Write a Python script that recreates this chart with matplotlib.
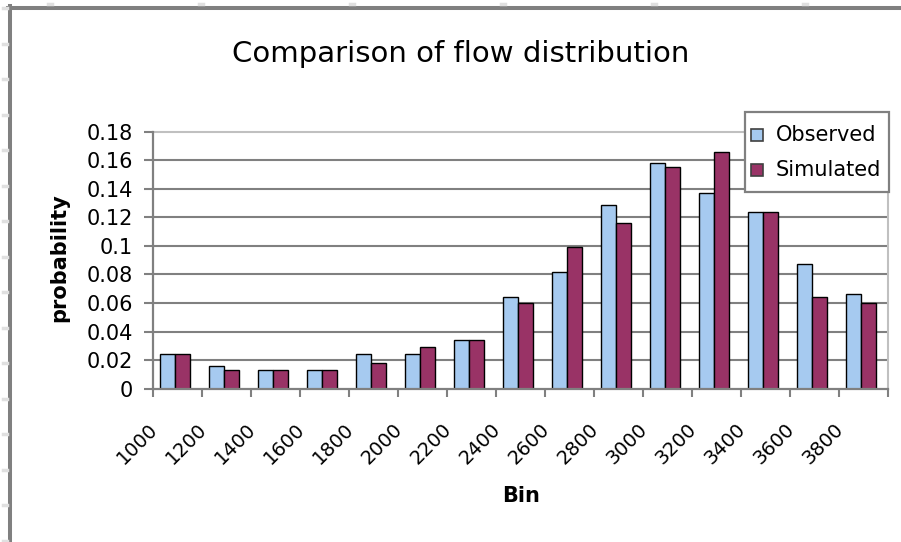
import numpy as np
import matplotlib
matplotlib.use("Agg")
import matplotlib.pyplot as plt
from matplotlib.patches import Rectangle
from matplotlib.lines import Line2D
from matplotlib.transforms import ScaledTranslation

# ---- data -------------------------------------------------------------
bins = ["1000", "1200", "1400", "1600", "1800", "2000", "2200", "2400",
        "2600", "2800", "3000", "3200", "3400", "3600", "3800"]
observed = [0.024, 0.016, 0.013, 0.013, 0.024, 0.024, 0.034, 0.064,
            0.082, 0.129, 0.158, 0.137, 0.124, 0.087, 0.066]
simulated = [0.024, 0.013, 0.013, 0.013, 0.018, 0.029, 0.034, 0.060,
             0.099, 0.116, 0.155, 0.166, 0.124, 0.064, 0.060]
series_names = ["Observed", "Simulated"]
y_ticks = [0, 0.02, 0.04, 0.06, 0.08, 0.1, 0.12, 0.14, 0.16, 0.18]
y_tick_labels = ["0", "0.02", "0.04", "0.06", "0.08", "0.1", "0.12",
                 "0.14", "0.16", "0.18"]

# ---- style ------------------------------------------------------------
W, H, DPI = 901, 542, 100
plt.rcParams["font.family"] = ["DejaVu Sans"]
GRID = "#808080"
LIGHT = "#c0c0c0"
colors = ["#a6caf0", "#993366"]
FS = 15

fig = plt.figure(figsize=(W / DPI, H / DPI), dpi=DPI)
fig.patch.set_facecolor("white")

def px_box(x0, y0, x1, y1):
    """Pixel box (top-left origin) -> figure fraction rect."""
    return [x0 / W, 1 - y1 / H, (x1 - x0) / W, (y1 - y0) / H]

ax = fig.add_axes(px_box(153, 131.7, 888, 388.7))
ax.set_facecolor("white")

x = np.arange(len(bins))
bw = 0.3
shift = -0.05
ax.bar(x + shift - bw / 2, observed, bw, color=colors[0],
       edgecolor="black", linewidth=1.0, zorder=3)
ax.bar(x + shift + bw / 2, simulated, bw, color=colors[1],
       edgecolor="black", linewidth=1.0, zorder=3)

ax.set_xlim(-0.5, len(bins) - 0.5)
ax.set_ylim(0, 0.18)

# horizontal gridlines (top one drawn as the lighter plot-area border)
ax.set_yticks(y_ticks)
ax.set_yticklabels(y_tick_labels, fontsize=FS, color="black")
for v in y_ticks[1:-1]:
    ax.axhline(v, color=GRID, linewidth=1.5, zorder=1)

for side in ["top", "right"]:
    ax.spines[side].set_color(LIGHT)
    ax.spines[side].set_linewidth(1.5)
for side in ["left", "bottom"]:
    ax.spines[side].set_color(GRID)
    ax.spines[side].set_linewidth(1.6)
ax.spines["left"].set_zorder(4)
ax.spines["bottom"].set_zorder(4)

ax.tick_params(axis="y", direction="out", length=6.5, width=1.5,
               color=GRID, pad=8)

# category boundaries get the tick marks, labels sit at centres
ax.set_xticks(np.arange(-0.5, len(bins), 1.0), minor=True)
ax.tick_params(axis="x", which="minor", direction="out", length=6,
               width=1.5, color=GRID)
ax.set_xticks(x)
ax.set_xticklabels(bins, fontsize=14, rotation=45, ha="right", va="top")
ax.tick_params(axis="x", which="major", length=0, pad=22)
off = ScaledTranslation(-16 / DPI, 0, fig.dpi_scale_trans)
for lab in ax.get_xticklabels():
    lab.set_transform(lab.get_transform() + off)

# axis titles
fig.text(59 / W, 1 - 258 / H, "probability", rotation=90, fontsize=FS,
         fontweight="bold", ha="center", va="center")
fig.text(521 / W, 1 - 496 / H, "Bin", fontsize=FS, fontweight="bold",
         ha="center", va="center")
fig.text(461 / W, 1 - 54 / H, "Comparison of flow distribution",
         fontsize=21, ha="center", va="center")

# legend box
lx0, ly0, lx1, ly1 = 745, 112, 889, 192
fig.patches.append(Rectangle((lx0 / W, 1 - ly1 / H), (lx1 - lx0) / W,
                             (ly1 - ly0) / H, transform=fig.transFigure,
                             facecolor="white", edgecolor=GRID,
                             linewidth=1.6, zorder=5))
for name, col, yc in zip(series_names, colors, [135, 170]):
    fig.patches.append(Rectangle((751 / W, 1 - (yc + 6) / H), 12 / W, 12 / H,
                                 transform=fig.transFigure, facecolor=col,
                                 edgecolor="#404040", linewidth=1.2,
                                 zorder=6))
    fig.text(776 / W, 1 - yc / H, name, fontsize=FS, ha="left",
             va="center", zorder=7)

# outer chart frame and faint ruler marks
fig.add_artist(Line2D([8 / W, 1], [1 - 8 / H, 1 - 8 / H], color=GRID,
                      linewidth=2.9, transform=fig.transFigure))
fig.add_artist(Line2D([10 / W, 10 / W], [0, 1 - 6 / H], color=GRID,
                      linewidth=2.9, transform=fig.transFigure))
for mx in np.arange(50, W, 151):
    fig.add_artist(Line2D([(mx - 2) / W, (mx + 2) / W], [1 - 4 / H] * 2,
                          color="#e0e0e0", linewidth=2.5,
                          transform=fig.transFigure))
for my in np.arange(8, H, 35.5):
    fig.add_artist(Line2D([3 / W, 7 / W], [1 - my / H] * 2,
                          color="#e0e0e0", linewidth=2.5,
                          transform=fig.transFigure))

fig.savefig("out.png", dpi=DPI)
